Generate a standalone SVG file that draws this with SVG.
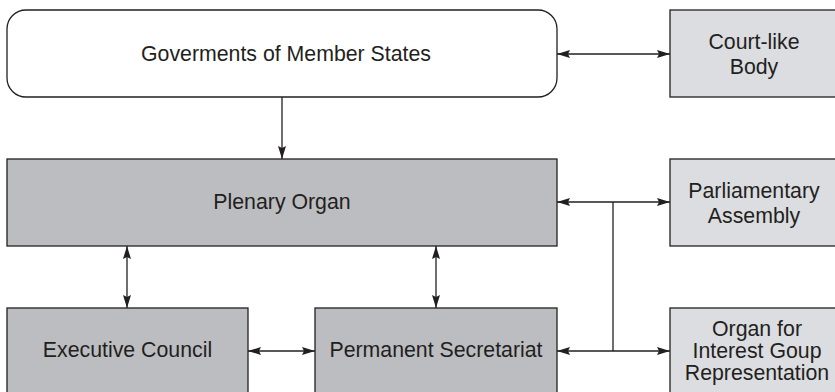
<svg xmlns="http://www.w3.org/2000/svg" width="835" height="392" viewBox="0 0 835 392">
<style>
.box{stroke:#231f20;stroke-width:1.3}
.dark{fill:#bcbdc0}
.light{fill:#dcdde0}
.white{fill:#ffffff}
text{font-family:"Liberation Sans",Arial,sans-serif;font-size:21.3px;fill:#231f20;text-anchor:middle}
.conn path{fill:none;stroke:#231f20;stroke-width:1.3}
</style>
<defs>
<marker id="ah" viewBox="0 0 13 8" refX="13" refY="4" markerWidth="13" markerHeight="8" markerUnits="userSpaceOnUse" orient="auto-start-reverse">
<path d="M0,0 L13,4 L0,8 L2,4 Z" fill="#231f20"/>
</marker>
</defs>
<rect width="835" height="392" fill="#ffffff"/>
<g id="governments">
<rect class="box white" x="7" y="10" width="550" height="87" rx="19" ry="19"/>
<text x="286" y="61">Goverments of Member States</text>
</g>
<g id="court">
<rect class="box light" x="670" y="10" width="170" height="87"/>
<text x="754" y="49">Court-like</text>
<text x="754" y="74">Body</text>
</g>
<g id="plenary">
<rect class="box dark" x="7" y="159" width="550" height="87"/>
<text x="282" y="209">Plenary Organ</text>
</g>
<g id="parliamentary">
<rect class="box light" x="670" y="159" width="170" height="87"/>
<text x="754" y="198">Parliamentary</text>
<text x="754" y="223">Assembly</text>
</g>
<g id="executive">
<rect class="box dark" x="7" y="308" width="241" height="100"/>
<text x="127.5" y="357">Executive Council</text>
</g>
<g id="secretariat">
<rect class="box dark" x="315" y="308" width="242" height="100"/>
<text x="436" y="357">Permanent Secretariat</text>
</g>
<g id="interest">
<rect class="box light" x="670" y="308" width="170" height="100"/>
<text x="757" y="336">Organ for</text>
<text x="757" y="358">Interest Goup</text>
<text x="757" y="380">Representation</text>
</g>
<g id="connectors" class="conn">
<path d="M557,54 H670" marker-start="url(#ah)" marker-end="url(#ah)"/>
<path d="M282,97 V159" marker-end="url(#ah)"/>
<path d="M127,246 V308" marker-start="url(#ah)" marker-end="url(#ah)"/>
<path d="M436,246 V308" marker-start="url(#ah)" marker-end="url(#ah)"/>
<path d="M248,351 H315" marker-start="url(#ah)" marker-end="url(#ah)"/>
<path d="M557,202 H670" marker-start="url(#ah)" marker-end="url(#ah)"/>
<path d="M557,351 H670" marker-start="url(#ah)" marker-end="url(#ah)"/>
<path d="M613,202 V351"/>
</g>
</svg>
